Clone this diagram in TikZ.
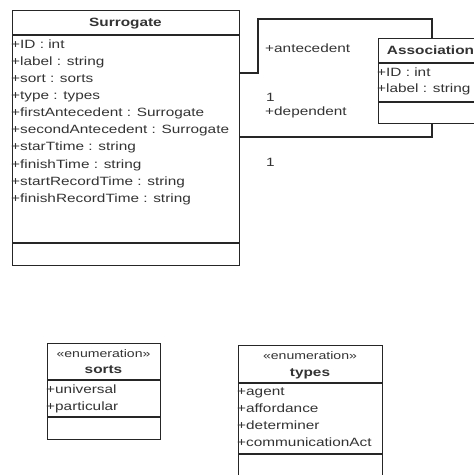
\documentclass[tikz,border=0pt]{standalone}
\usepackage{fontspec}
\setmainfont{Liberation Sans}[FakeStretch=1.28]
\begin{document}
\begin{tikzpicture}[x=1pt,y=-1pt,
  boxline/.style={draw=black!85,line width=1.1pt},
  classbox/.style={boxline,rectangle,inner sep=0,anchor=north west,fill=white},
  conn/.style={draw=black!85,line width=1.1pt},
  txt/.style={inner sep=0,text=black!80,font=\fontsize{12}{14}\selectfont,text height=8.6pt,text depth=0pt},
  attr/.style={txt,anchor=west},
  title/.style={txt,font=\fontsize{12}{14}\selectfont\bfseries},
  stereo/.style={txt,font=\fontsize{11}{13}\selectfont}
]
\useasboundingbox (0,0) rectangle (474,475);
\clip (0,0) rectangle (474,475);
\fill[white] (0,0) rectangle (474,475);

% Surrogate
\node[classbox,minimum width=227pt,minimum height=255pt] (surr) at (12,10) {};
\draw[boxline] (12,35) -- (239,35);
\draw[boxline] (12,243) -- (239,243);
\node[title] (surrT) at (125.5,22.5) {Surrogate};
\foreach \t [count=\i from 0] in {+ID : int,+label : string,+sort : sorts,+type : types,+firstAntecedent : Surrogate,+secondAntecedent : Surrogate,+starTtime : string,+finishTime : string,+startRecordTime : string,+finishRecordTime : string}
  \node[attr] (sa\i) at (11,44+17.1*\i) {\t};

% Association
\node[classbox,minimum width=105pt,minimum height=85pt] (assoc) at (378,38) {};
\draw[boxline] (378,63) -- (483,63);
\draw[boxline] (378,102) -- (483,102);
\node[title] (assocT) at (430.5,50.5) {Association};
\node[attr] (aa0) at (377,72) {+ID : int};
\node[attr] (aa1) at (377,88.5) {+label : string};

% connectors
\draw[conn] (surr.east |- 0,73) -- (258,73) -- (258,19) -- (432,19) -- (assoc.north -| 432,0);
\draw[conn] (assoc.south -| 432,0) -- (432,137) -- (surr.east |- 0,137);
\node[attr] (lant) at (265,48) {+antecedent};
\node[attr] (l1a) at (266,97) {1};
\node[attr] (ldep) at (265,111) {+dependent};
\node[attr] (l1b) at (266,162) {1};

% sorts
\node[classbox,minimum width=113pt,minimum height=96pt] (sorts) at (47,343) {};
\draw[boxline] (47,380) -- (160,380);
\draw[boxline] (47,417) -- (160,417);
\node[stereo] (sortsS) at (103.5,353) {«enumeration»};
\node[title] (sortsT) at (103.5,369.5) {sorts};
\node[attr] (so0) at (46,389) {+universal};
\node[attr] (so1) at (46,406) {+particular};

% types
\node[classbox,minimum width=144pt,minimum height=140pt] (types) at (238,345) {};
\draw[boxline] (238,383) -- (382,383);
\draw[boxline] (238,454) -- (382,454);
\node[stereo] (typesS) at (310,355.5) {«enumeration»};
\node[title] (typesT) at (310,372) {types};
\foreach \t [count=\i from 0] in {+agent,+affordance,+determiner,+communicationAct}
  \node[attr] (ty\i) at (237,391+17.1*\i) {\t};
\end{tikzpicture}
\end{document}
